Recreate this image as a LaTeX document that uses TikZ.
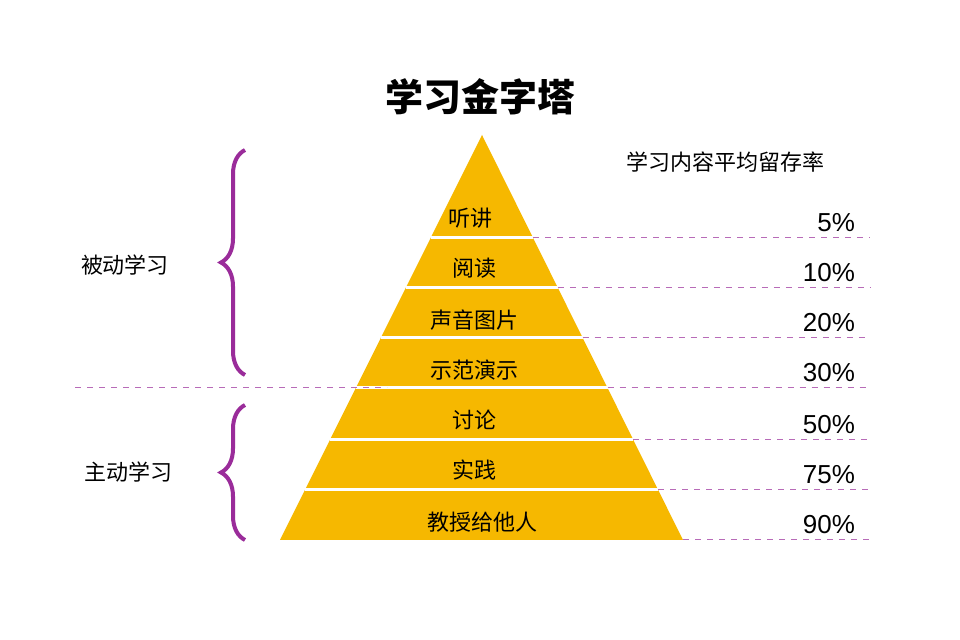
\documentclass[tikz,border=0pt]{standalone}
\usepackage{fontspec}
\newfontfamily\cjk{Noto Sans CJK SC}
\setmainfont{Liberation Sans}
\usetikzlibrary{decorations.pathreplacing}
\definecolor{gold}{HTML}{F6B800}
\definecolor{plum}{HTML}{9A2C9A}
\tikzset{
  band/.style={font=\cjk\fontsize{11}{13}\selectfont},
  pct/.style={font=\fontsize{13}{15}\selectfont, anchor=east},
  sep/.style={draw=white, line width=1.5pt},
  guide/.style={draw=plum!70, dashed, line width=0.5pt},
  brc/.style={draw=plum, line width=2pt, decorate, decoration={brace, amplitude=12pt}}
}
\begin{document}
\begin{tikzpicture}[x=0.5pt,y=-0.5pt]
\useasboundingbox (0,0) rectangle (960,640);
\fill[white] (0,0) rectangle (960,640);
% pyramid
\coordinate (apex) at (482,135);
\coordinate (bl) at (280,540);
\coordinate (br) at (683,540);
\fill[gold] (apex) -- (br) -- (bl) -- cycle;
\foreach \y/\p in {238/5\%, 288/10\%, 338/20\%, 388/30\%, 440/50\%, 490/75\%, 540/90\%}{
  \pgfmathsetmacro{\xl}{482-(\y-135)/405*202}
  \pgfmathsetmacro{\xr}{482+(\y-135)/405*201}
  \ifnum\y<540 \draw[sep] (\xl,\y) -- (\xr,\y); \fi
  \draw[guide] (\xr,\y) -- (870,\y);
  \node[pct] at (862,\y-15) {\p};
}
\draw[guide] (75,388) -- (387,388);
\begin{scope}[band]
\node (l1) at (470,218) {听讲};
\node (l2) at (474,268) {阅读};
\node (l3) at (474,320) {声音图片};
\node (l4) at (474,370) {示范演示};
\node (l5) at (474,420) {讨论};
\node (l6) at (474,470) {实践};
\node (l7) at (482,522) {教授给他人};
\end{scope}
% titles
\node (title) at (480,97) {\cjk\bfseries\fontsize{19}{22}\selectfont 学习金字塔};
\node (head) at (725,162) {\cjk\fontsize{11}{13}\selectfont 学习内容平均留存率};
% braces
\draw[brc] (245,375) -- (245,150);
\draw[brc] (245,540) -- (245,405);
\node (passive) at (125,265) {\cjk\fontsize{11}{13}\selectfont 被动学习};
\node (active) at (128,472) {\cjk\fontsize{11}{13}\selectfont 主动学习};
\end{tikzpicture}
\end{document}
